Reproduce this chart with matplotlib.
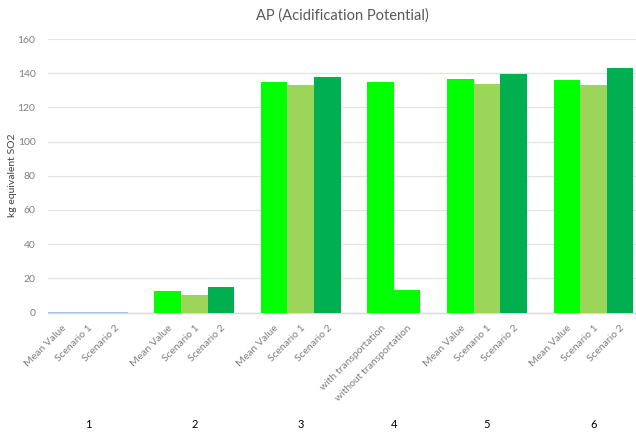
import matplotlib
matplotlib.use("Agg")
import matplotlib.pyplot as plt
import matplotlib.transforms as mtransforms

plt.rcParams['font.family'] = ['Lato', 'DejaVu Sans']

# ---- data ----
group_names = ['1', '2', '3', '4', '5', '6']
group_labels = [
    ['Mean Value', 'Scenario 1', 'Scenario 2'],
    ['Mean Value', 'Scenario 1', 'Scenario 2'],
    ['Mean Value', 'Scenario 1', 'Scenario 2'],
    ['with transportation', 'without transportation'],
    ['Mean Value', 'Scenario 1', 'Scenario 2'],
    ['Mean Value', 'Scenario 1', 'Scenario 2'],
]
group_values = [
    [0.2, 0.2, 0.2],
    [12.4, 10.2, 15.1],
    [134.8, 133.0, 137.9],
    [135.0, 13.2],
    [136.7, 133.8, 139.6],
    [135.8, 132.9, 143.0],
]
BRIGHT = '#00FF00'
LIGHT = '#9BD55A'
DARK = '#00B050'
BLUE = '#9DC3E6'
group_colors = [
    [BLUE, BLUE, BLUE],
    [BRIGHT, LIGHT, DARK],
    [BRIGHT, LIGHT, DARK],
    [BRIGHT, BRIGHT],
    [BRIGHT, LIGHT, DARK],
    [BRIGHT, LIGHT, DARK],
]
yticks = [0, 20, 40, 60, 80, 100, 120, 140, 160]

W, H = 636, 434
fig = plt.figure(figsize=(W / 100, H / 100), dpi=100)
ax = fig.add_axes([48 / W, (H - 312.5) / H, (W - 48) / W, (312.5 - 39) / H])

pos = 0.0
xs, labs, centers = [], [], []
for vals, labels, cols in zip(group_values, group_labels, group_colors):
    x = [pos + i for i in range(len(vals))]
    ax.bar(x, vals, width=1.0, align='edge', color=cols, linewidth=0, zorder=3)
    xs += [xi + 0.5 for xi in x]
    labs += labels
    centers.append(pos + len(vals) / 2)
    pos += len(vals) + 1

ax.set_xlim(0, 22.1)
ax.set_ylim(0, 160)
ax.set_yticks(yticks)
ax.set_yticklabels([str(t) for t in yticks], color='#7f7f7f', fontsize=7.5)
ax.tick_params(axis='y', length=0, pad=9)
ax.grid(axis='y', color='#e3e3e3', linewidth=0.9, zorder=0)
for s in ['top', 'right', 'left']:
    ax.spines[s].set_visible(False)
ax.spines['bottom'].set_color('#d9d9d9')
ax.spines['bottom'].set_linewidth(1.0)

ax.set_xticks(xs)
ax.set_xticklabels(labs, rotation=45, ha='right', va='top',
                   rotation_mode='anchor', color='#7f7f7f', fontsize=7.5)
ax.tick_params(axis='x', length=0, pad=8)

trans = mtransforms.blended_transform_factory(ax.transData, fig.transFigure)
for c, g in zip(centers, group_names):
    ax.text(c, 10 / H, g, transform=trans, ha='center', va='center',
            fontsize=8, color='#000000')

ax.set_title('AP (Acidification Potential)', fontsize=10.5, color='#595959', pad=14)
fig.text(13 / W, (H - 175) / H, 'kg equivalent SO2', rotation=90,
         ha='center', va='center', fontsize=7.5, color='#404040')

fig.savefig('out.png', dpi=100)
